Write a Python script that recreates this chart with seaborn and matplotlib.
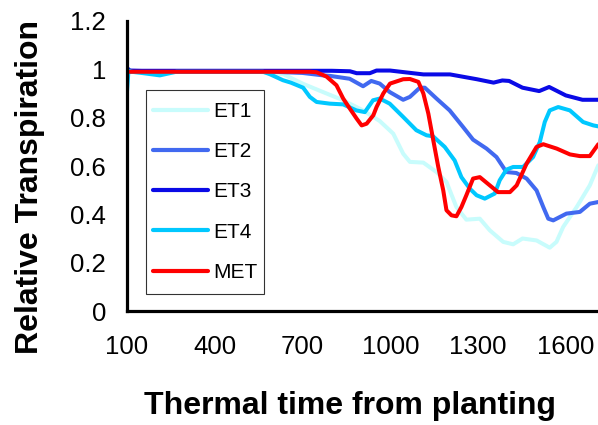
#!/usr/bin/env python3
"""Relative transpiration over thermal time for four ET treatments and MET."""

import pandas as pd
import matplotlib

matplotlib.use("Agg")
import matplotlib.pyplot as plt
from matplotlib.path import Path
import seaborn as sns

# values
ET1_X = [100, 300, 550, 634, 702, 770, 839, 907, 964, 1010, 1044, 1067, 1113, 1158,
         1192, 1226, 1260, 1306, 1340, 1386, 1420, 1452, 1500, 1545, 1568, 1591,
         1637, 1682, 1711]
ET1_Y = [0.99, 0.99, 0.99, 0.98, 0.94, 0.906, 0.872, 0.83, 0.786, 0.734, 0.651, 0.617,
         0.614, 0.575, 0.534, 0.43, 0.378, 0.382, 0.334, 0.286, 0.276, 0.3, 0.292,
         0.262, 0.286, 0.348, 0.43, 0.52, 0.603]

ET2_X = [100, 600, 700, 770, 793, 861, 907, 935, 964, 998, 1044, 1067, 1101, 1118,
         1158, 1203, 1249, 1283, 1329, 1363, 1397, 1431, 1466, 1500, 1523, 1540, 1557,
         1602, 1648, 1682, 1711]
ET2_Y = [0.99, 0.99, 0.985, 0.975, 0.973, 0.961, 0.93, 0.952, 0.941, 0.906, 0.874,
         0.886, 0.924, 0.924, 0.879, 0.83, 0.761, 0.709, 0.672, 0.637, 0.575, 0.571,
         0.548, 0.499, 0.43, 0.382, 0.375, 0.403, 0.41, 0.444, 0.451]

ET3_X = [100, 110, 150, 300, 500, 700, 800, 862, 885, 930, 953, 999, 1113, 1204,
         1296, 1353, 1383, 1406, 1452, 1509, 1543, 1600, 1657, 1711]
ET3_Y = [1.005, 0.995, 0.994, 0.994, 0.994, 0.994, 0.994, 0.992, 0.984, 0.984, 0.995,
         0.995, 0.979, 0.979, 0.959, 0.945, 0.954, 0.952, 0.924, 0.91, 0.927, 0.892,
         0.874, 0.874]

ET4_X = [100, 105, 115, 150, 212, 269, 400, 565, 588, 633, 660, 702, 725, 748, 793,
         839, 884, 913, 941, 964, 998, 1044, 1089, 1124, 1146, 1186, 1220, 1243, 1272,
         1295, 1323, 1357, 1374, 1397, 1420, 1454, 1488, 1511, 1528, 1545, 1574, 1614,
         1659, 1694, 1711]
ET4_Y = [0.91, 0.995, 0.99, 0.985, 0.975, 0.99, 0.99, 0.99, 0.98, 0.955, 0.945, 0.924,
         0.886, 0.865, 0.858, 0.855, 0.83, 0.823, 0.872, 0.879, 0.858, 0.803, 0.748,
         0.727, 0.723, 0.679, 0.623, 0.554, 0.506, 0.479, 0.465, 0.486, 0.541, 0.585,
         0.596, 0.596, 0.637, 0.699, 0.782, 0.83, 0.844, 0.83, 0.782, 0.768, 0.764]

MET_X = [100, 500, 700, 725, 748, 782, 816, 839, 862, 885, 902, 919, 942, 953, 976,
         999, 1044, 1067, 1096, 1113, 1130, 1147, 1164, 1181, 1192, 1209, 1226, 1243,
         1260, 1283, 1306, 1340, 1368, 1409, 1432, 1466, 1500, 1523, 1569, 1614, 1648,
         1682, 1711]
MET_Y = [0.99, 0.99, 0.99, 0.99, 0.988, 0.97, 0.934, 0.879, 0.837, 0.796, 0.768, 0.775,
         0.81, 0.844, 0.9, 0.941, 0.959, 0.96, 0.948, 0.9, 0.817, 0.706, 0.596, 0.499,
         0.417, 0.396, 0.392, 0.43, 0.479, 0.548, 0.554, 0.52, 0.492, 0.492, 0.52, 0.61,
         0.679, 0.69, 0.672, 0.648, 0.641, 0.641, 0.69]

SERIES = ["ET1", "ET2", "ET3", "ET4", "MET"]
COLORS = ["#c8fcfc", "#4169f0", "#0a0ae6", "#00c8ff", "#ff0000"]
X_TICKS = [100, 400, 700, 1000, 1300, 1600]
Y_TICKS = [0, 0.2, 0.4, 0.6, 0.8, 1, 1.2]
Y_TICK_LABELS = ["0", "0.2", "0.4", "0.6", "0.8", "1", "1.2"]


def build_frame() -> pd.DataFrame:
    parts = []
    for name, xs, ys in zip(
        SERIES,
        [ET1_X, ET2_X, ET3_X, ET4_X, MET_X],
        [ET1_Y, ET2_Y, ET3_Y, ET4_Y, MET_Y],
    ):
        parts.append(pd.DataFrame({"time": xs, "rt": ys, "series": name}))
    return pd.concat(parts, ignore_index=True)


def tall_box(x0, y0, width, height, mutation_size):
    """Legend frame with a little more room above and below than at the sides."""
    e = 5.7
    return Path(
        [(x0, y0 - e), (x0 + width, y0 - e), (x0 + width, y0 + height + e),
         (x0, y0 + height + e), (x0, y0 - e)],
        closed=True,
    )


def main():
    sns.set_style("white")
    plt.rcParams["font.family"] = ["Liberation Sans", "DejaVu Sans"]
    plt.rcParams["text.color"] = "black"
    plt.rcParams["axes.labelcolor"] = "black"
    plt.rcParams["xtick.color"] = "black"
    plt.rcParams["ytick.color"] = "black"

    df = build_frame()

    fig = plt.figure(figsize=(5.98, 4.25), dpi=100)
    ax = fig.add_axes([0.2124, 0.2682, 0.7876, 0.6824])

    sns.lineplot(
        data=df, x="time", y="rt", hue="series", hue_order=SERIES,
        palette=dict(zip(SERIES, COLORS)), estimator=None, sort=False,
        linewidth=2.9, ax=ax,
    )

    ax.set_xlim(100, 1710)
    ax.set_ylim(0, 1.2)
    ax.set_xticks(X_TICKS)
    ax.set_yticks(Y_TICKS)
    ax.set_yticklabels(Y_TICK_LABELS)

    for side in ["top", "right"]:
        ax.spines[side].set_visible(False)
    for side in ["left", "bottom"]:
        ax.spines[side].set_linewidth(2.3)
        ax.spines[side].set_color("black")

    ax.tick_params(axis="both", direction="in", length=6, width=2,
                   labelsize=18.5, colors="black")
    ax.tick_params(axis="x", pad=17)
    ax.tick_params(axis="y", pad=15)

    ax.set_xlabel("Thermal time from planting", fontsize=23, fontweight="bold",
                  color="black")
    ax.set_ylabel("Relative Transpiration", fontsize=23, fontweight="bold",
                  color="black")
    ax.xaxis.set_label_coords(0.473, -0.276)
    ax.yaxis.set_label_coords(-0.175, 0.428)

    handles, labels = ax.get_legend_handles_labels()
    leg = ax.legend(
        handles, labels, loc="upper left", bbox_to_anchor=(0.041, 0.744),
        fontsize=15, frameon=True, fancybox=False, shadow=False,
        handlelength=2.65, handletextpad=0.25, labelspacing=1.02,
        borderpad=0.32, borderaxespad=0, labelcolor="black",
    )
    leg.get_frame().set_boxstyle(tall_box)
    leg.get_frame().set_edgecolor("black")
    leg.get_frame().set_linewidth(0.8)
    for line in leg.get_lines():
        line.set_linewidth(3)

    fig.savefig("out.png", dpi=100)
    plt.close(fig)


if __name__ == "__main__":
    main()
